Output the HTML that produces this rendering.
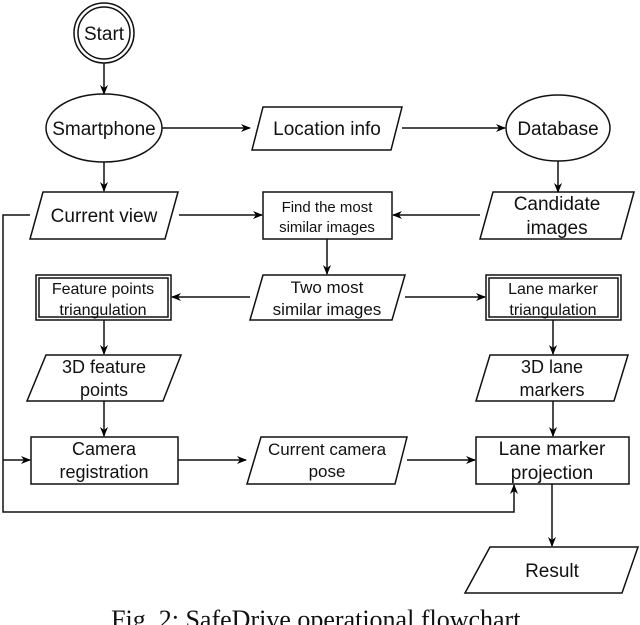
<!DOCTYPE html>
<html><head><style>body{margin:0;background:#fff;overflow:hidden}svg{display:block}</style></head><body>
<svg width="640" height="625" viewBox="0 0 640 625" xmlns="http://www.w3.org/2000/svg">
<defs><marker id="a" markerWidth="10" markerHeight="10" refX="9" refY="5" orient="auto" markerUnits="userSpaceOnUse"><path d="M0,1 L10,5 L0,9 L3,5 Z" fill="#000"/></marker></defs>
<g fill="none" stroke="#111" stroke-width="1.5">
<circle cx="104" cy="33" r="30"/><circle cx="104" cy="33" r="26"/>
<ellipse cx="104" cy="128" rx="58" ry="34"/>
<path d="M263,107 L402,107 L391,150 L252,150 Z"/>
<ellipse cx="558" cy="128" rx="52" ry="33"/>
<path d="M43,192 L178,192 L165,239 L30,239 Z"/>
<rect x="263" y="192" width="129" height="47"/>
<path d="M493,192 L634,192 L621,239 L480,239 Z"/>
<path d="M263,275 L405,275 L392,320 L250,320 Z"/>
<rect x="36" y="275" width="135" height="45"/><rect x="39" y="278" width="129" height="39"/>
<rect x="486" y="275" width="135" height="45"/><rect x="489" y="278" width="129" height="39"/>
<path d="M46,355 L181,355 L163,401 L27,401 Z"/>
<path d="M490,355 L628,355 L614,401 L476,401 Z"/>
<rect x="31" y="437" width="147" height="47"/>
<path d="M261,437 L407,437 L395,484 L247,484 Z"/>
<rect x="476" y="437" width="153" height="47"/>
<path d="M490,547 L638,547 L622,593 L465,593 Z"/>
</g>
<g fill="none" stroke="#111" stroke-width="1.5" marker-end="url(#a)">
<path d="M104,63 L104,94"/>
<path d="M162,128 L250,128"/>
<path d="M402,128 L505,128"/>
<path d="M558,161 L558,192"/>
<path d="M480,215 L393,215"/>
<path d="M179,215 L262,215"/>
<path d="M327,239 L327,274"/>
<path d="M250,297 L172,297"/>
<path d="M405,297 L485,297"/>
<path d="M104,162 L104,191"/>
<path d="M104,320 L104,354"/>
<path d="M104,401 L104,436"/>
<path d="M553,320 L553,354"/>
<path d="M553,401 L553,436"/>
<path d="M178,460 L246,460"/>
<path d="M407,460 L475,460"/>
<path d="M3,460 L30,460"/>
<path d="M552,484 L552,546"/>
<path d="M30,215 L3,215 L3,512 L514,512 L514,485"/>
</g>
<g font-family="Liberation Sans, sans-serif" font-size="19" text-anchor="middle" fill="#111">
<text x="104" y="40">Start</text>
<text x="104" y="135">Smartphone</text>
<text x="327" y="135">Location info</text>
<text x="558" y="135">Database</text>
<text x="104" y="222">Current view</text>
<text x="327" y="212" font-size="15">Find the most</text>
<text x="327" y="232" font-size="15">similar images</text>
<text x="557" y="210">Candidate</text>
<text x="557" y="234">images</text>
<text x="327" y="293" font-size="17">Two most</text>
<text x="327" y="315" font-size="17">similar images</text>
<text x="103" y="294" font-size="16">Feature points</text>
<text x="103" y="315" font-size="16">triangulation</text>
<text x="553" y="294" font-size="16">Lane marker</text>
<text x="553" y="315" font-size="16">triangulation</text>
<text x="104" y="373" font-size="18">3D feature</text>
<text x="104" y="396" font-size="18">points</text>
<text x="552" y="373" font-size="18">3D lane</text>
<text x="552" y="396" font-size="18">markers</text>
<text x="104" y="455" font-size="18">Camera</text>
<text x="104" y="478" font-size="18">registration</text>
<text x="327" y="455" font-size="17">Current camera</text>
<text x="327" y="477" font-size="17">pose</text>
<text x="552" y="455" font-size="19">Lane marker</text>
<text x="552" y="479" font-size="19">projection</text>
<text x="552" y="577">Result</text>
</g>
<text x="319" y="628" font-family="Liberation Serif, serif" font-size="26" text-anchor="middle" fill="#111">Fig. 2: SafeDrive operational flowchart.</text>
</svg>
</body></html>
